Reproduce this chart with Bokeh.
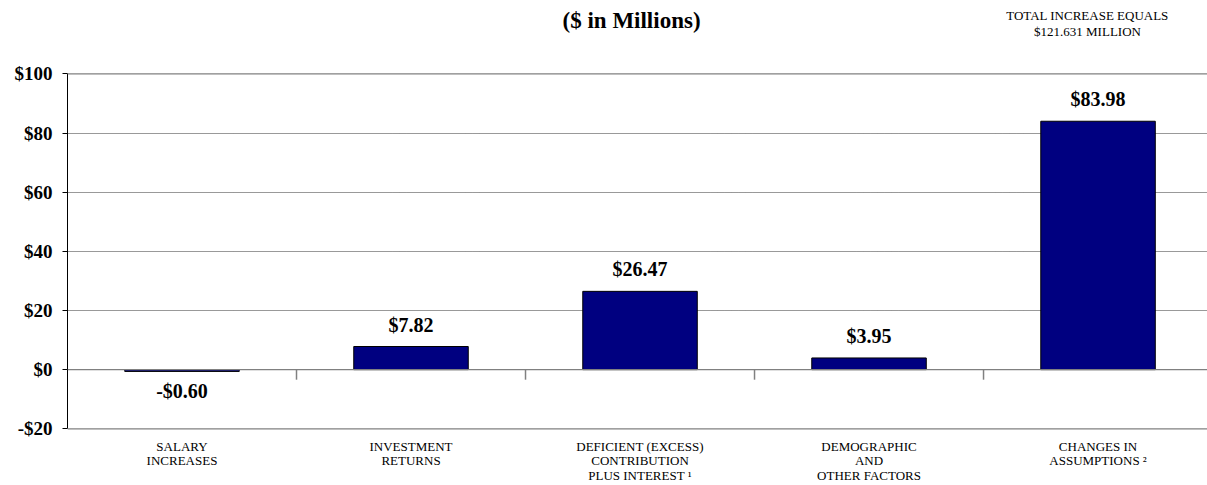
import numpy as np
from bokeh.plotting import figure
from bokeh.models import FixedTicker, LinearAxis, Span, Range1d, ColumnDataSource
from bokeh.core.properties import value
from bokeh.embed import file_html
from bokeh.resources import INLINE

categories = [
    "SALARY\nINCREASES",
    "INVESTMENT\nRETURNS",
    "DEFICIENT (EXCESS)\nCONTRIBUTION\nPLUS INTEREST \u00b9",
    "DEMOGRAPHIC\nAND\nOTHER FACTORS",
    "CHANGES IN\nASSUMPTIONS \u00b2",
]
values = [-0.60, 7.82, 26.47, 3.95, 83.98]
y_ticks = [-20, 0, 20, 40, 60, 80, 100]
y_tick_labels = ["-$20", "$0", "$20", "$40", "$60", "$80", "$100"]
title_text = "($ in Millions)"
note_lines = ["TOTAL INCREASE EQUALS", "$121.631 MILLION"]

SERIF = "Liberation Serif"
n = len(categories)
centers = [i + 0.5 for i in range(n)]

p = figure(width=1207, height=485, output_backend="svg", toolbar_location=None,
           x_range=Range1d(0, 4.978), y_range=Range1d(-39.17, 124.8),
           min_border_left=67, min_border_right=0, min_border_top=0, min_border_bottom=0,
           x_axis_location=None, y_axis_location=None)
p.outline_line_color = None
p.background_fill_color = "white"
p.border_fill_color = "white"

# grid
p.xgrid.visible = False
p.ygrid.ticker = FixedTicker(ticks=[20, 40, 60, 80])
p.ygrid.grid_line_color = "#333333"
p.ygrid.grid_line_dash = "1 1"
p.ygrid.grid_line_width = 1

# frame top / bottom and zero line
for yv in (100, -20, 0):
    p.add_layout(Span(location=yv, dimension="width", line_color="#808080", line_width=1.2))

# category boundary tick marks on zero line
bounds = list(range(1, n))
p.segment(x0=bounds, y0=[0] * len(bounds), x1=bounds, y1=[-3.4] * len(bounds),
          line_color="#808080", line_width=1.5)

# bars
src = ColumnDataSource(dict(
    x=centers, top=values,
    label=[("-$%.2f" % abs(v)) if v < 0 else ("$%.2f" % v) for v in values],
    yoff=[20 if v < 0 else -22 for v in values],
))
p.vbar(x="x", top="top", bottom=0, width=0.5, source=src,
       fill_color="#000080", line_color="black", line_width=1)
p.text(x="x", y="top", text="label", y_offset="yoff", source=src,
       text_font=value(SERIF), text_font_style="bold", text_font_size="20px",
       text_align="center", text_baseline="middle", text_color="black")

# y axis
yaxis = LinearAxis(ticker=FixedTicker(ticks=y_ticks), bounds=(-20, 100))
yaxis.major_label_overrides = {t: l for t, l in zip(y_ticks, y_tick_labels)}
yaxis.major_label_text_font = SERIF
yaxis.major_label_text_font_style = "bold"
yaxis.major_label_text_font_size = "19px"
yaxis.major_label_text_color = "black"
yaxis.major_label_standoff = 10
yaxis.major_tick_out = 5
yaxis.major_tick_in = 0
yaxis.minor_tick_line_color = None
yaxis.axis_line_color = "black"
yaxis.major_tick_line_color = "black"
p.add_layout(yaxis, "left")

# category labels below the -$20 line
p.text(x=centers, y=[-20] * n, text=categories, y_offset=10,
       text_font=value(SERIF), text_font_size="13px", text_line_height=0.98,
       text_align="center", text_baseline="top", text_color="black")

# titles (above the $100 line)
p.text(x=[2.463], y=[118.0], text=[title_text], text_font=value(SERIF), text_font_style="bold",
       text_font_size="23px", text_align="center", text_baseline="middle", text_color="black")
p.text(x=[4.454, 4.454], y=[119.7, 114.3], text=note_lines, text_font=value(SERIF),
       text_font_size="13px", text_align="center", text_baseline="middle", text_color="black")

open("out.html", "w").write(file_html(p, INLINE))
